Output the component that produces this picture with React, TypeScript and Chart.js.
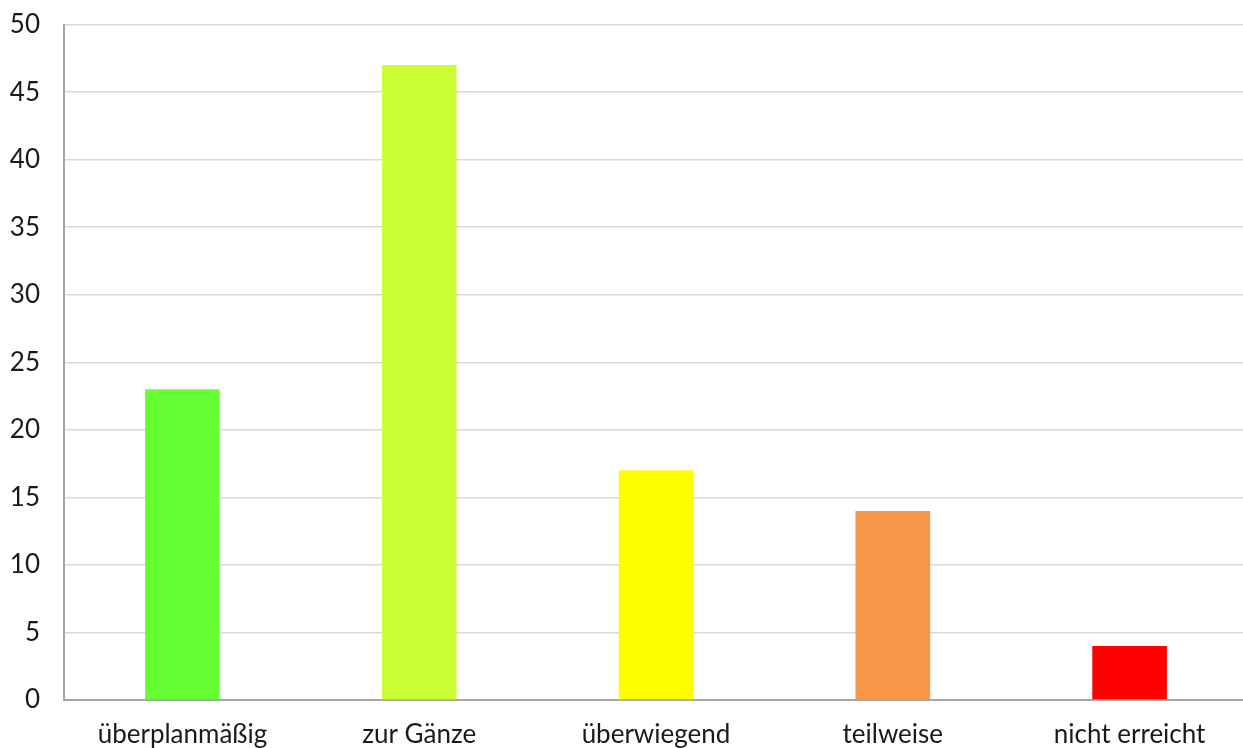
import React, { useEffect, useRef } from "react";
import { Chart, registerables } from "chart.js";

Chart.register(...registerables);

const categories = ["überplanmäßig", "zur Gänze", "überwiegend", "teilweise", "nicht erreicht"];
const values = [23, 47, 17, 14, 4];
const barColors = ["#66FF33", "#CCFF33", "#FFFF00", "#F79646", "#FF0000"];
const yMin = 0;
const yMax = 50;
const yStep = 5;

const CANVAS_W = 1248;
const CANVAS_H = 763;

export default function App() {
  const ref = useRef<HTMLCanvasElement | null>(null);
  useEffect(() => {
    if (!ref.current) return;
    const chart = new Chart(ref.current, {
      type: "bar",
      data: {
        labels: categories,
        datasets: [
          {
            data: values,
            backgroundColor: barColors,
            borderWidth: 0,
            barPercentage: 0.315,
            categoryPercentage: 1,
          },
        ],
      },
      options: {
        animation: false,
        responsive: false,
        maintainAspectRatio: false,
        layout: { padding: { top: 9, right: 0, left: 0, bottom: 0 } },
        plugins: { legend: { display: false }, tooltip: { enabled: false } },
        scales: {
          x: {
            grid: { display: false, drawTicks: false },
            border: { display: true, color: "#a6a6a6", width: 2 },
            ticks: {
              color: "#1a1a1a",
              font: { family: "Lato", size: 26 },
              padding: 19,
              maxRotation: 0,
              autoSkip: false,
            },
            afterFit: (s: any) => {
              s.height = 48;
            },
          },
          y: {
            min: yMin,
            max: yMax,
            ticks: {
              stepSize: yStep,
              color: "#1a1a1a",
              font: { family: "Lato", size: 26 },
              padding: 24,
            },
            grid: {
              color: "#d9d9d9",
              lineWidth: 1.5,
              drawTicks: false,
            },
            border: { display: true, color: "#a6a6a6", width: 2 },
            afterFit: (s: any) => {
              s.width = 64;
            },
          },
        },
      },
    });
    return () => chart.destroy();
  }, []);
  return (
    <div style={{ position: "absolute", left: 0, top: 0, width: 1243, height: 748, background: "#fff", overflow: "hidden" }}>
      <canvas
        ref={ref}
        width={CANVAS_W}
        height={CANVAS_H}
        style={{ position: "absolute", left: 0, top: 748 - CANVAS_H, width: CANVAS_W, height: CANVAS_H }}
      />
    </div>
  );
}
